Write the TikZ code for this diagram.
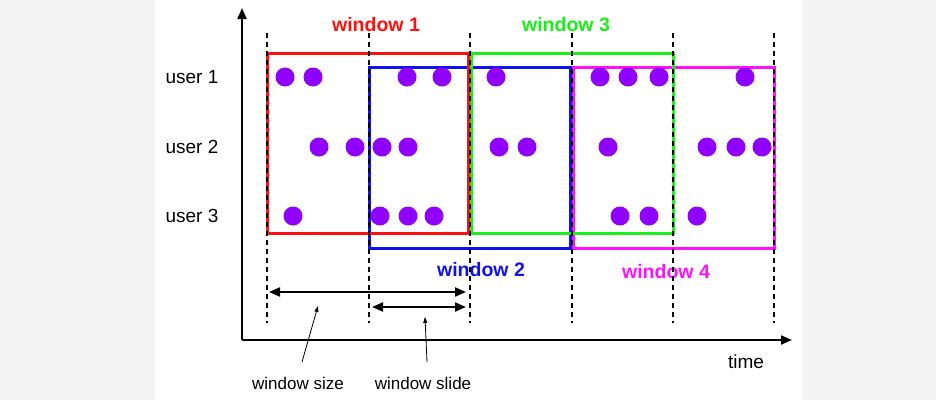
\documentclass[tikz,border=0pt]{standalone}
\usepackage{fontspec}
\setmainfont{Liberation Sans}
\usepackage{xcolor}
\usetikzlibrary{arrows.meta}
\definecolor{cbg}{HTML}{F4F4F4}
\definecolor{cwone}{HTML}{FF1010}
\definecolor{cwtwo}{HTML}{1010F0}
\definecolor{cwthree}{HTML}{18F018}
\definecolor{cwfour}{HTML}{FF10FF}
\definecolor{cev}{HTML}{9000FF}

\begin{document}
\begin{tikzpicture}[x=1pt,y=-1pt,>={Triangle[length=11pt,width=9pt]},
  win/.style={line width=3pt},
  wlabel/.style={font=\fontsize{19.5}{22}\selectfont\bfseries},
  ulabel/.style={font=\fontsize{19}{22}\selectfont},
  slabel/.style={font=\fontsize{17}{20}\selectfont},
  ev/.style={fill=cev},
  tick/.style={line width=2pt,dash pattern=on 5pt off 4pt},
  ptr/.style={line width=0.8pt,-{Triangle[length=6pt,width=4pt]}}]
  \useasboundingbox (0,0) rectangle (936,400);
  \fill[cbg] (0,0) rectangle (936,400);
  \fill[white] (155,0) rectangle (802,400);
  % axes
  \coordinate (origin) at (242,340);
  \coordinate (ytop) at (242,8);
  \coordinate (xend) at (792,340);
  \draw[line width=2pt,->] (origin) -- (ytop);
  \draw[line width=2pt,->] (origin) -- (xend);
  \node[ulabel] (time) at (746,362) {time};
  % users
  \node[ulabel] (u1) at (192,77) {user 1};
  \node[ulabel] (u2) at (192,147) {user 2};
  \node[ulabel] (u3) at (192,216) {user 3};
  % windows
  \draw[win,cwtwo] (369,67) rectangle (570.5,248);
  \draw[win,cwfour] (573.5,67) rectangle (774,248);
  \draw[win,cwone] (267,53) rectangle (468.5,233);
  \draw[win,cwthree] (471.5,53) rectangle (673,233);
  \node[wlabel,cwone] (w1) at (376,25) {window 1};
  \node[wlabel,cwthree] (w3) at (566,25) {window 3};
  \node[wlabel,cwtwo] (w2) at (481,270) {window 2};
  \node[wlabel,cwfour] (w4) at (666,272) {window 4};
  % events
  \foreach \x in {285,313,407,442,496,600,628,659,745}
    \fill[ev] (\x,77) circle (9.5pt);
  \foreach \x in {319,355,382,408,499,527,608,707,736,762}
    \fill[ev] (\x,147) circle (9.5pt);
  \foreach \x in {293,380,408,434,620,649,697}
    \fill[ev] (\x,216) circle (9.5pt);
  % slide boundaries
  \foreach \x in {267,369,470,572,673,774}
    \draw[tick] (\x,33) -- (\x,323);
  % size and slide
  \coordinate (s0) at (269,292);
  \coordinate (s1) at (466,292);
  \coordinate (d0) at (372,307);
  \coordinate (d1) at (466,307);
  \draw[line width=2pt,<->] (s0) -- (s1);
  \draw[line width=2pt,<->] (d0) -- (d1);
  \node[slabel] (lsize) at (298,383) {window size};
  \node[slabel] (lslide) at (423,383) {window slide};
  \coordinate (psize0) at (302,362);
  \coordinate (psize1) at (318,306);
  \coordinate (pslide0) at (427,362);
  \coordinate (pslide1) at (425,317);
  \draw[ptr] (psize0) -- (psize1);
  \draw[ptr] (pslide0) -- (pslide1);
\end{tikzpicture}
\end{document}
